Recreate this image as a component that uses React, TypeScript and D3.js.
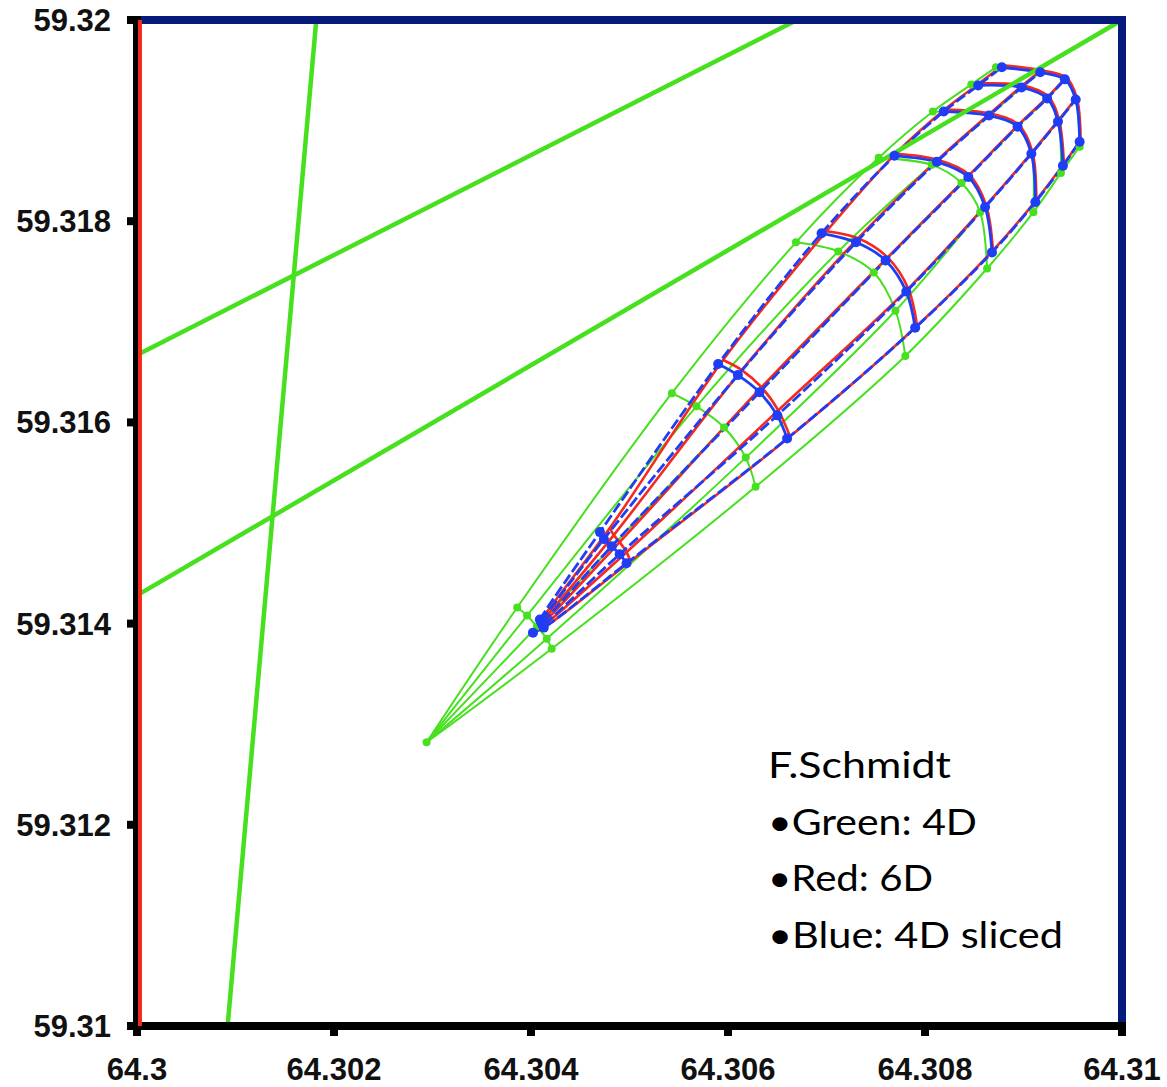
import React from 'react';
import * as d3 from 'd3';

type P = [number, number];

const X_DOMAIN: [number, number] = [64.3, 64.31];
const Y_DOMAIN: [number, number] = [59.31, 59.32];
const X_TICKS = [64.3, 64.302, 64.304, 64.306, 64.308, 64.31];
const X_TICK_LABELS = ['64.3', '64.302', '64.304', '64.306', '64.308', '64.31'];
const Y_TICKS = [59.31, 59.312, 59.314, 59.316, 59.318, 59.32];
const Y_TICK_LABELS = ['59.31', '59.312', '59.314', '59.316', '59.318', '59.32'];

// Green: 4D
const greenTip: P = [64.30294, 59.31282];
const greenSections: P[][] = [
  [[64.30386, 59.31416], [64.30396, 59.31408], [64.30406, 59.31397], [64.30416, 59.31385], [64.30421, 59.31375]],
  [[64.30543, 59.31629], [64.30568, 59.31616], [64.30596, 59.31595], [64.30618, 59.31565], [64.30628, 59.31536]],
  [[64.30669, 59.31779], [64.30712, 59.3177], [64.30748, 59.31749], [64.3077, 59.31711], [64.3078, 59.31666]],
  [[64.30753, 59.31863], [64.30807, 59.31856], [64.30837, 59.31838], [64.30856, 59.31809], [64.30863, 59.31753]],
  [[64.30808, 59.31909], [64.30865, 59.31905], [64.30894, 59.31894], [64.30908, 59.31867], [64.3091, 59.31809]],
  [[64.30847, 59.31936], [64.30898, 59.31933], [64.30924, 59.31922], [64.30935, 59.31899], [64.30938, 59.31848]],
  [[64.30872, 59.31953], [64.30917, 59.31948], [64.30942, 59.31941], [64.30953, 59.31921], [64.30957, 59.31874]],
];

// Red: 6D
const redTip: P = [64.30403, 59.31392];
const redSections: P[][] = [
  [[64.30412, 59.31406], [64.30413, 59.31404], [64.30414, 59.31402], [64.30415, 59.314], [64.30416, 59.31398]],
  [[64.3048, 59.31495], [64.30484, 59.31488], [64.3049, 59.31481], [64.30497, 59.31471], [64.30501, 59.31462]],
  [[64.30595, 59.31662], [64.30614, 59.31652], [64.30634, 59.31635], [64.30651, 59.31612], [64.30663, 59.31586]],
  [[64.307, 59.3179], [64.30732, 59.31783], [64.30762, 59.31764], [64.30783, 59.31733], [64.30792, 59.31696]],
  [[64.3077, 59.31867], [64.30813, 59.31861], [64.30845, 59.31846], [64.30862, 59.31816], [64.30869, 59.31771]],
  [[64.3082, 59.31911], [64.30866, 59.31907], [64.30895, 59.31896], [64.30909, 59.31869], [64.30913, 59.31821]],
  [[64.30855, 59.31937], [64.30899, 59.31935], [64.30925, 59.31924], [64.30936, 59.31901], [64.30941, 59.31857]],
  [[64.30879, 59.31955], [64.30918, 59.3195], [64.30943, 59.31943], [64.30954, 59.31923], [64.30958, 59.31881]],
];

// Blue: 4D sliced
const blueTip: P = [64.30402, 59.31391];
const blueSections: P[][] = [
  [[64.30409, 59.31404], [64.3041, 59.31402], [64.30411, 59.314], [64.30412, 59.31398], [64.30413, 59.31396]],
  [[64.3047, 59.31491], [64.30474, 59.31484], [64.30482, 59.31477], [64.3049, 59.31469], [64.30497, 59.3146]],
  [[64.3059, 59.31658], [64.3061, 59.31647], [64.30632, 59.3163], [64.3065, 59.31607], [64.3066, 59.31584]],
  [[64.30695, 59.31788], [64.3073, 59.31779], [64.3076, 59.31761], [64.30781, 59.3173], [64.3079, 59.31694]],
  [[64.30769, 59.31865], [64.30812, 59.31859], [64.30844, 59.31844], [64.30861, 59.31814], [64.30868, 59.31769]],
  [[64.30819, 59.31909], [64.30865, 59.31905], [64.30894, 59.31894], [64.30908, 59.31867], [64.30912, 59.31819]],
  [[64.30854, 59.31935], [64.30898, 59.31933], [64.30924, 59.31922], [64.30935, 59.31899], [64.3094, 59.31855]],
  [[64.30878, 59.31953], [64.30917, 59.31948], [64.30942, 59.31941], [64.30953, 59.31921], [64.30957, 59.31879]],
];

// Long straight green traces
const greenRays: P[][] = [
  [[64.3, 59.31667], [64.3067, 59.32]],
  [[64.3, 59.31428], [64.31, 59.32]],
  [[64.30092, 59.31], [64.30182, 59.32]],
];

// Red trace along the left edge
const redEdge: P[] = [[64.30003, 59.31], [64.30003, 59.32]];

const legendLines = ['F.Schmidt', '\u2022Green: 4D', '\u2022Red: 6D', '\u2022Blue: 4D sliced'];
const legendWidths = [183, 209, 165, 295];

const GREEN = '#46e01e';
const RED = '#f52a1e';
const BLUE = '#1f3df5';
const NAVY = '#061a7e';

function meshPaths(tip: P, sections: P[][]) {
  const n = sections[0].length;
  const longs: P[][] = [];
  for (let i = 0; i < n; i++) longs.push([tip, ...sections.map((s) => s[i])]);
  return { longs, sections };
}

export default function App() {
  const W = 1167;
  const H = 1087;
  const x = d3.scaleLinear().domain(X_DOMAIN).range([137, 1122]);
  const y = d3.scaleLinear().domain(Y_DOMAIN).range([1026, 20]);
  const curve = d3.line<P>().x((d) => x(d[0])).y((d) => y(d[1])).curve(d3.curveCatmullRom.alpha(0.5));
  const straight = d3.line<P>().x((d) => x(d[0])).y((d) => y(d[1]));

  const g = meshPaths(greenTip, greenSections);
  const r = meshPaths(redTip, redSections);
  const b = meshPaths(blueTip, blueSections);

  const x0 = x(X_DOMAIN[0]);
  const x1 = x(X_DOMAIN[1]);
  const y0 = y(Y_DOMAIN[0]);
  const y1 = y(Y_DOMAIN[1]);

  return (
    <svg width={W} height={H} style={{ position: 'absolute', left: 0, top: 0, background: '#fff' }}>
      {/* green mesh */}
      <g fill="none" stroke={GREEN} strokeWidth={2}>
        {g.longs.map((l, i) => <path key={'gl' + i} d={curve(l) || ''} />)}
        {g.sections.map((s, i) => <path key={'gs' + i} d={curve(s) || ''} />)}
      </g>
      {/* red mesh */}
      <g fill="none" stroke={RED} strokeWidth={2.6}>
        {r.longs.map((l, i) => <path key={'rl' + i} d={curve(l) || ''} />)}
        {r.sections.map((s, i) => <path key={'rs' + i} d={curve(s) || ''} />)}
      </g>
      {/* blue mesh */}
      <g fill="none" stroke={BLUE} strokeWidth={2.8}>
        {b.longs.map((l, i) => <path key={'bl' + i} d={curve(l) || ''} strokeDasharray="11,3.5" />)}
        {b.sections.map((s, i) => <path key={'bs' + i} d={curve(s) || ''} />)}
      </g>
      {/* thick green traces */}
      <g fill="none" stroke={GREEN} strokeWidth={4.5}>
        {greenRays.map((l, i) => <path key={'gr' + i} d={straight(l) || ''} />)}
      </g>
      {/* green markers */}
      <g fill={GREEN}>
        {[greenTip, ...greenSections.flat()].map((p, i) => (
          <circle key={'gd' + i} cx={x(p[0])} cy={y(p[1])} r={4} />
        ))}
      </g>
      {/* blue markers */}
      <g fill={BLUE}>
        {[blueTip, ...blueSections.flat()].map((p, i) => (
          <circle key={'bd' + i} cx={x(p[0])} cy={y(p[1])} r={5} />
        ))}
      </g>
      {/* frame */}
      <line x1={x0} x2={x1 + 4} y1={y1} y2={y1} stroke={NAVY} strokeWidth={8} />
      <line x1={x1} x2={x1} y1={y1 - 4} y2={y0} stroke={NAVY} strokeWidth={8} />
      <line x1={x0} x2={x0} y1={y1 - 4} y2={y0 + 4} stroke="#000" strokeWidth={8} />
      <line x1={x0 - 10} x2={x1 + 4} y1={y0} y2={y0} stroke="#000" strokeWidth={8} />
      {X_TICKS.map((t, i) => (
        <line key={'xt' + i} x1={x(t)} x2={x(t)} y1={y0} y2={y0 + 10} stroke="#000" strokeWidth={8} />
      ))}
      {Y_TICKS.map((t, i) => (
        <line key={'yt' + i} x1={x0 - 10} x2={x0} y1={y(t)} y2={y(t)} stroke="#000" strokeWidth={8} />
      ))}
      <path d={straight(redEdge) || ''} stroke={RED} strokeWidth={4} fill="none" />
      {/* tick labels */}
      <g fontFamily="'Liberation Sans', Arial, sans-serif" fontWeight="bold" fontSize={31} fill="#111">
        {X_TICKS.map((t, i) => (
          <text key={'xl' + i} x={x(t)} y={1080} textAnchor="middle">{X_TICK_LABELS[i]}</text>
        ))}
        {Y_TICKS.map((t, i) => (
          <text key={'yl' + i} x={111} y={y(t) + 11} textAnchor="end">{Y_TICK_LABELS[i]}</text>
        ))}
      </g>
      {/* annotation */}
      <g fontFamily="Lato, 'Open Sans', sans-serif" fontSize={36} fill="#000">
        {legendLines.map((s, i) => (
          <text key={'lg' + i} x={768} y={778 + i * 56.5} textLength={legendWidths[i]} lengthAdjust="spacingAndGlyphs">{s}</text>
        ))}
      </g>
    </svg>
  );
}
